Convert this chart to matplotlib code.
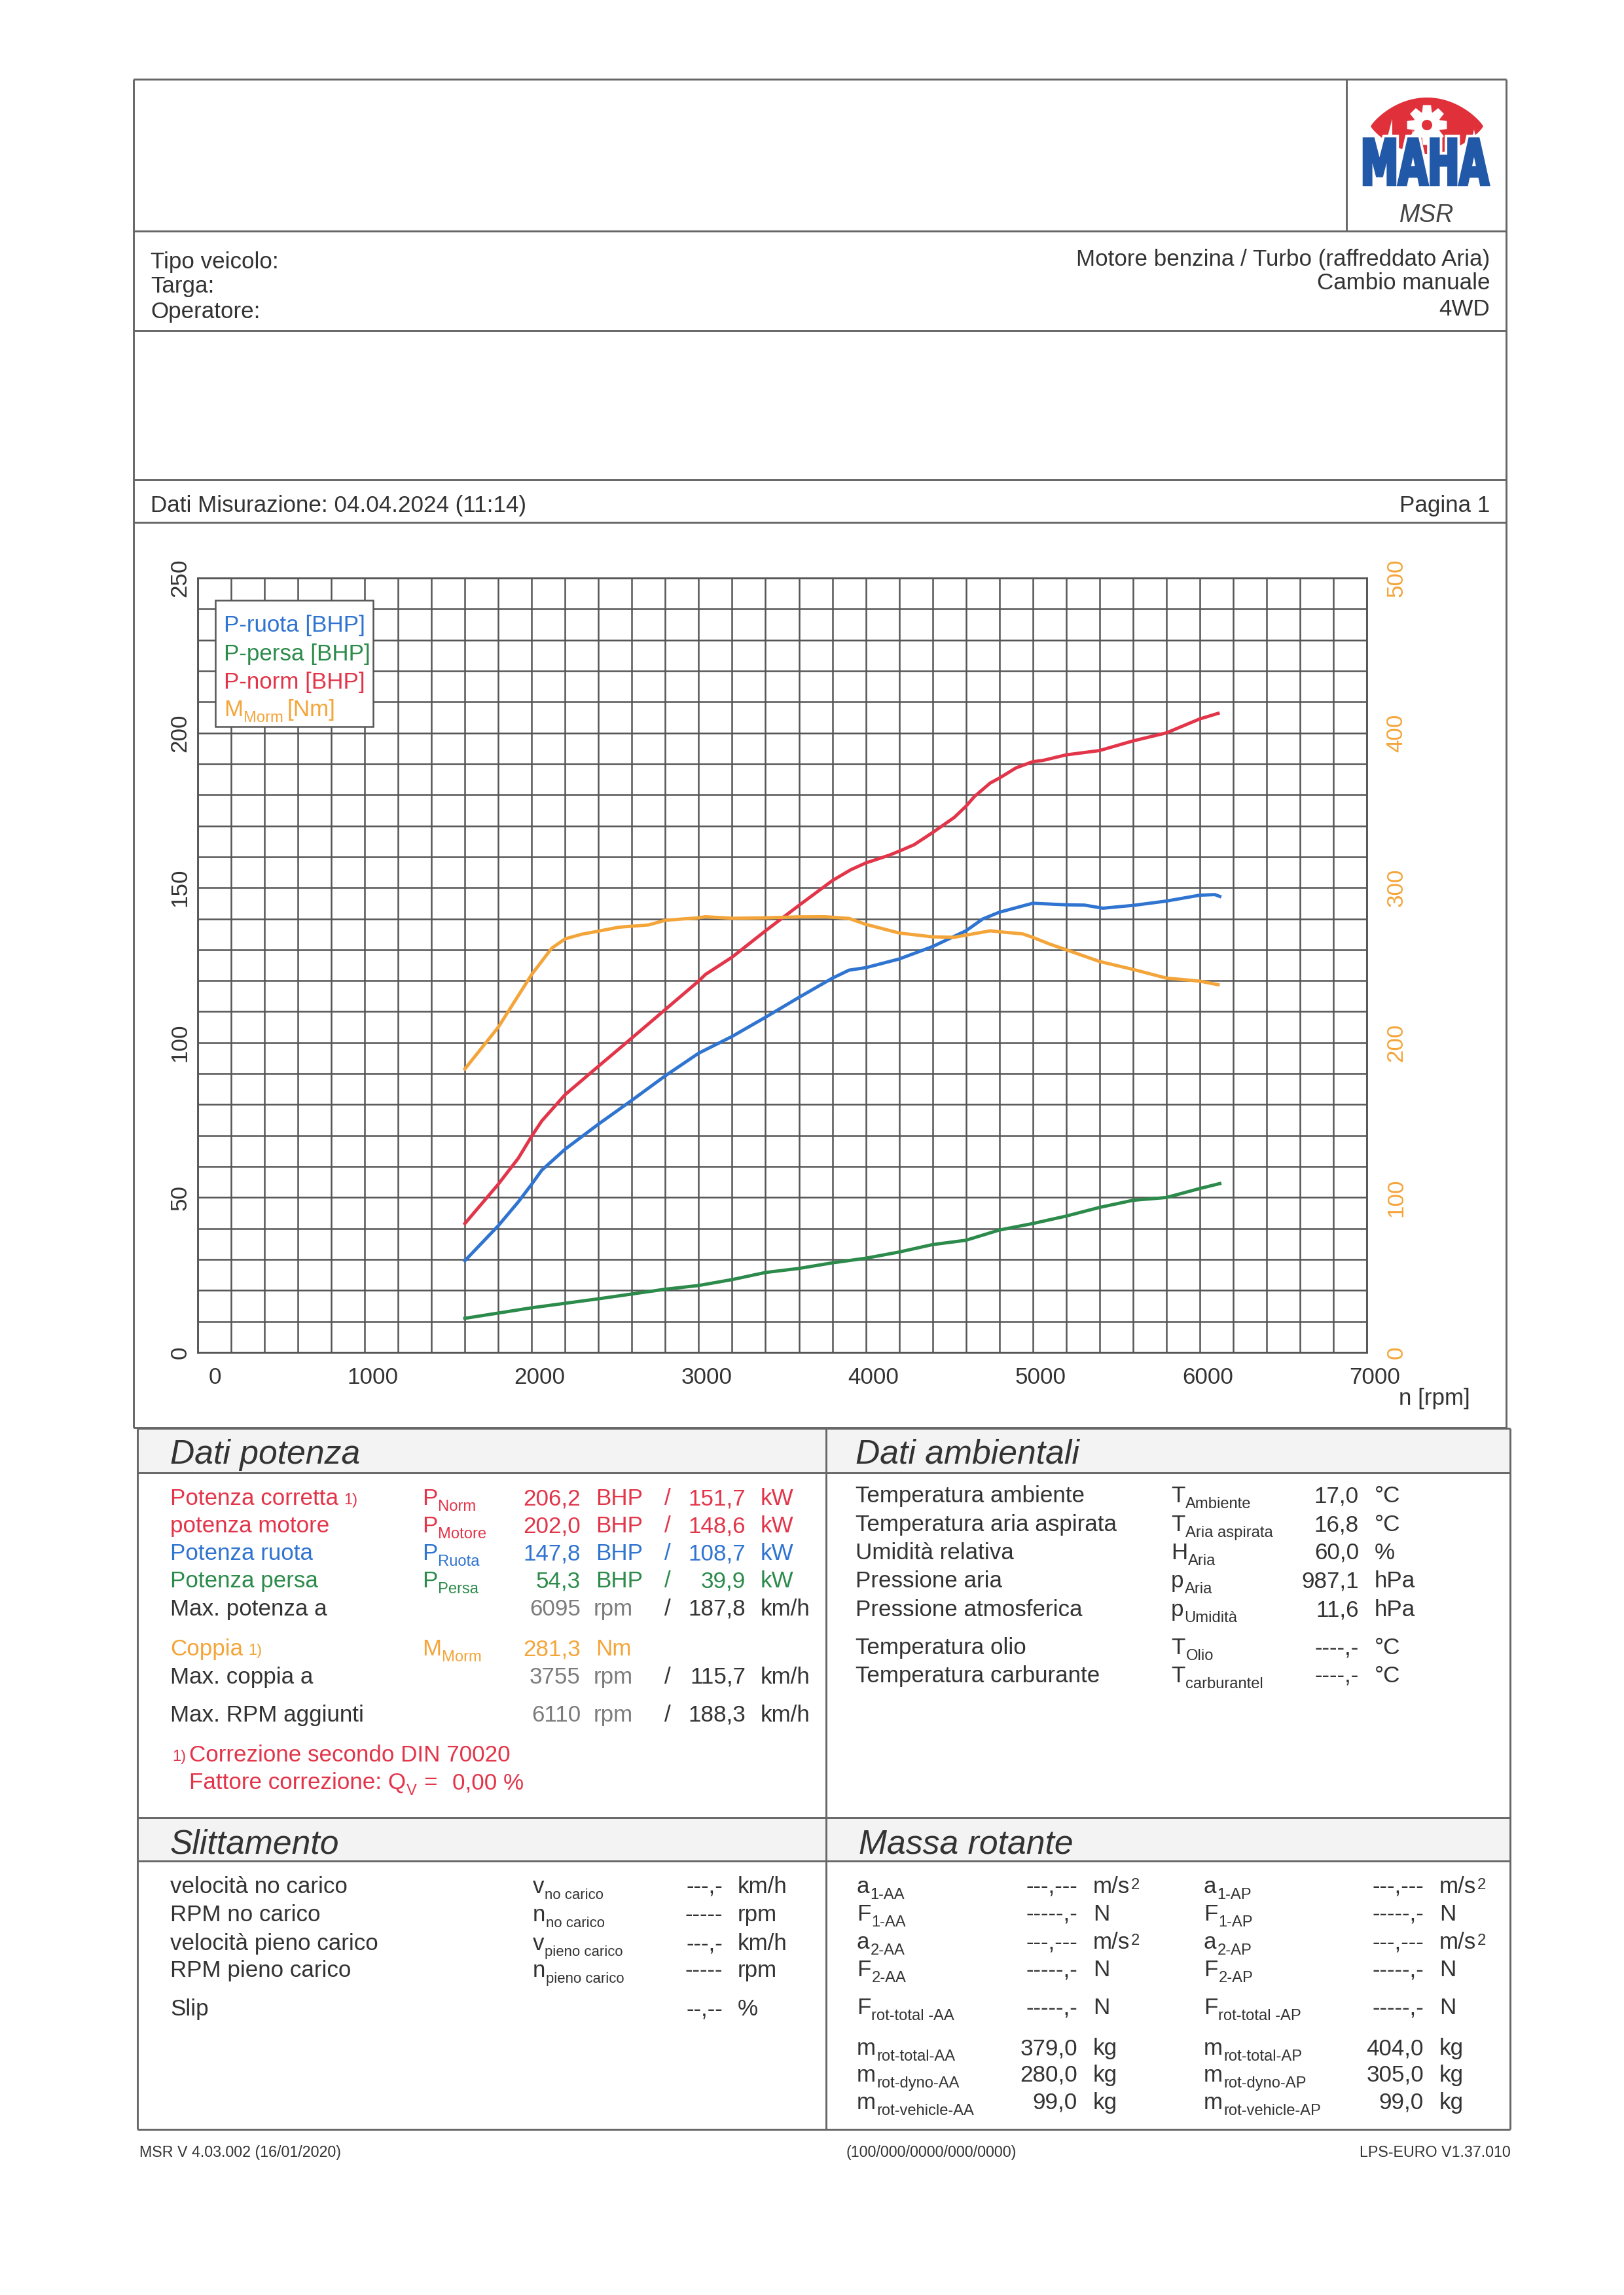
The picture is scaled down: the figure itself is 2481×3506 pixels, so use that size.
import numpy as np
import matplotlib
matplotlib.use('Agg')
import matplotlib.pyplot as plt
from matplotlib.patches import Rectangle, Polygon, Circle, PathPatch
from matplotlib.textpath import TextPath, TextToPath
from matplotlib.font_manager import FontProperties
from matplotlib.transforms import Affine2D, ScaledTranslation

plt.rcParams['font.family'] = ['Liberation Sans', 'DejaVu Sans']

# ------------------------------------------------------------------ data
rpm_norm = [1600, 1800, 1920, 2000, 2060, 2200, 2400, 2600, 2800, 3000, 3040, 3200, 3400,
            3600, 3800, 3910, 4000, 4140, 4200, 4290, 4400, 4530, 4600, 4650, 4745, 4800,
            4900, 5000, 5060, 5200, 5400, 5600, 5800, 6000, 6110]
p_norm = [41.6, 54.3, 62.7, 69.8, 74.7, 83.2, 92.4, 101.5, 110.7, 119.9, 122.0, 127.6, 136.1,
          144.3, 152.3, 155.8, 158.0, 160.5, 161.8, 163.9, 167.8, 172.7, 176.3, 179.4, 183.8, 185.4,
          188.7, 190.7, 191.1, 192.9, 194.3, 197.4, 200.0, 204.5, 206.3]

rpm_ruota = [1600, 1800, 1920, 2000, 2060, 2200, 2400, 2600, 2800, 3000, 3200, 3400, 3600,
             3800, 3900, 4000, 4200, 4400, 4600, 4700, 4800, 5000, 5200, 5310, 5420, 5600,
             5800, 6000, 6090, 6120]
p_ruota = [29.6, 40.9, 48.6, 54.3, 58.8, 65.6, 73.7, 81.4, 89.3, 96.6, 102.0, 108.2, 114.6,
           120.8, 123.4, 124.2, 127.0, 131.0, 136.1, 139.9, 142.1, 145.0, 144.5, 144.4, 143.4, 144.3,
           145.7, 147.6, 147.8, 147.2]

rpm_persa = [1600, 2000, 2400, 2800, 3000, 3200, 3400, 3600, 3800, 4000, 4200, 4400, 4600,
             4800, 5000, 5200, 5400, 5600, 5800, 6000, 6120]
p_persa = [11.0, 14.4, 17.3, 20.4, 21.6, 23.5, 25.8, 27.1, 28.9, 30.4, 32.4, 34.8, 36.2,
           39.5, 41.6, 44.0, 46.8, 49.1, 50.0, 52.9, 54.5]

rpm_m = [1600, 1800, 2000, 2120, 2200, 2300, 2400, 2520, 2700, 2800, 3000, 3040, 3200, 3400,
         3600, 3755, 3900, 4000, 4200, 4400, 4530, 4600, 4745, 4800, 4940, 5000, 5100, 5200,
         5400, 5600, 5800, 6000, 6110]
m_norm = [183, 210, 244, 261, 267, 270, 272, 274.5, 276, 279, 280.6, 281.3, 280.3, 280.6,
          281.2, 281.3, 280.2, 276.4, 270.8, 268.3, 268, 269.4, 272.2, 271.6, 270.2, 268, 263.7, 260,
          252.4, 247.3, 241.7, 239.7, 237.4]

x_ticks = [0, 1000, 2000, 3000, 4000, 5000, 6000, 7000]
y_ticks = [0, 50, 100, 150, 200, 250]
y2_ticks = [0, 100, 200, 300, 400, 500]

legend_labels = ['P-ruota [BHP]', 'P-persa [BHP]', 'P-norm [BHP]']

vehicle_left = ['Tipo veicolo:', 'Targa:', 'Operatore:']
vehicle_right = ['Motore benzina / Turbo (raffreddato Aria)', 'Cambio manuale', '4WD']

pot_labels = ['Potenza corretta', 'potenza motore', 'Potenza ruota', 'Potenza persa']
pot_subs = ['Norm', 'Motore', 'Ruota', 'Persa']
pot_bhp = ['206,2', '202,0', '147,8', '54,3']
pot_kw = ['151,7', '148,6', '108,7', '39,9']

amb_labels = ['Temperatura ambiente', 'Temperatura aria aspirata', 'Umidità relativa',
              'Pressione aria', 'Pressione atmosferica', 'Temperatura olio', 'Temperatura carburante']
amb_main = ['T', 'T', 'H', 'p', 'p', 'T', 'T']
amb_subs = ['Ambiente', 'Aria aspirata', 'Aria', 'Aria', 'Umidità', 'Olio', 'carburantel']
amb_vals = ['17,0', '16,8', '60,0', '987,1', '11,6', '----,-', '----,-']
amb_units = ['°C', '°C', '%', 'hPa', 'hPa', '°C', '°C']

sl_labels = ['velocità no carico', 'RPM no carico', 'velocità pieno carico', 'RPM pieno carico', 'Slip']
sl_main = ['v', 'n', 'v', 'n', '']
sl_subs = ['no carico', 'no carico', 'pieno carico', 'pieno carico', '']
sl_vals = ['---,-', '-----', '---,-', '-----', '--,--']
sl_units = ['km/h', 'rpm', 'km/h', 'rpm', '%']

mr_main = ['a', 'F', 'a', 'F', 'F', 'm', 'm', 'm']
mr_subs = ['1-AA', '1-AA', '2-AA', '2-AA', 'rot-total -AA', 'rot-total-AA', 'rot-dyno-AA', 'rot-vehicle-AA']
mr_vals_aa = ['---,---', '-----,-', '---,---', '-----,-', '-----,-', '379,0', '280,0', '99,0']
mr_vals_ap = ['---,---', '-----,-', '---,---', '-----,-', '-----,-', '404,0', '305,0', '99,0']
mr_units = ['m/s', 'N', 'm/s', 'N', 'N', 'kg', 'kg', 'kg']

# ------------------------------------------------------------------ style
W, H = 2481, 3506
DPI = 300
PX = DPI / 72.0
FS = 8.4
SUBFS = 5.7
RED = '#e2354a'
BLUE = '#2f74d0'
GREEN = '#2c8a4b'
ORANGE = '#f4a53a'
GRAYT = '#7c7c7c'
DARK = '#333333'
GRID = '#555555'
FRAME = '#666666'
BAND = '#f3f3f3'
LOGO_RED = '#e0303a'
LOGO_BLUE = '#2158a8'

fig = plt.figure(figsize=(W / DPI, H / DPI), dpi=DPI)
fig.patch.set_facecolor('white')

# ------------------------------------------------------------------ chart
cx0, cx1, cy0, cy1 = 302, 2088, 883, 2066
ax = fig.add_axes([cx0 / W, 1 - cy1 / H, (cx1 - cx0) / W, (cy1 - cy0) / H])
ax.set_xlim(0, 7000)
ax.set_ylim(0, 250)
ax.set_xticks(x_ticks)
ax.set_xticks(np.arange(0, 7001, 200), minor=True)
ax.set_yticks(y_ticks)
ax.set_yticks(np.arange(0, 251, 10), minor=True)
ax.grid(which='both', color=GRID, lw=0.6)
ax.set_axisbelow(True)
ax.tick_params(which='both', length=0)
ax.tick_params(axis='x', pad=5.3, labelsize=FS, labelcolor=DARK)
ax.tick_params(axis='y', pad=2.5, labelsize=FS, labelcolor=DARK)
ax.set_xticklabels([str(v) for v in x_ticks])
ax.set_yticklabels([str(v) for v in y_ticks], rotation=90, va='center', ha='right')
for lbl in ax.get_xticklabels():
    dx = 26 if lbl.get_text() == '0' else 12
    lbl.set_transform(lbl.get_transform() + ScaledTranslation(dx / DPI, 0, fig.dpi_scale_trans))
for s in ax.spines.values():
    s.set_color(GRID)
    s.set_linewidth(0.6)

ax.plot(rpm_persa, p_persa, color=GREEN, lw=1.2, zorder=3)
ax.plot(rpm_ruota, p_ruota, color=BLUE, lw=1.2, zorder=3)
ax.plot(rpm_norm, p_norm, color=RED, lw=1.2, zorder=3)

ax2 = ax.twinx()
ax2.set_ylim(0, 500)
ax2.set_yticks(y2_ticks)
ax2.tick_params(which='both', length=0, pad=6.8, labelsize=FS, labelcolor=ORANGE)
ax2.set_yticklabels([str(v) for v in y2_ticks], rotation=90, va='center', ha='left')
for s in ax2.spines.values():
    s.set_color(GRID)
    s.set_linewidth(0.6)
ax2.plot(rpm_m, m_norm, color=ORANGE, lw=1.2, zorder=3)

# ------------------------------------------------------------------ page overlay
pg = fig.add_axes([0, 0, 1, 1], zorder=10)
pg.set_xlim(0, W)
pg.set_ylim(H, 0)
pg.axis('off')

_t2p = TextToPath()


def tw(s, size, style='normal'):
    fp = FontProperties(family='Liberation Sans', size=size, style=style)
    w, h, d = _t2p.get_text_width_height_descent(s, fp, ismath=False)
    return w * PX


def txt(x, y, s, size=FS, color=DARK, ha='left', style='normal', weight='normal', z=6):
    pg.text(x, y, s, fontsize=size, color=color, ha=ha, va='baseline',
            fontstyle=style, fontweight=weight, zorder=z)


def sym(x, y, main, sub, color=DARK, size=FS, subsize=SUBFS, drop=9):
    if not main:
        return
    txt(x, y, main, size, color)
    if sub:
        txt(x + tw(main, size) + 1, y + drop, sub, subsize, color)


def hl(y, x0, x1, lw=0.7):
    pg.plot([x0, x1], [y, y], color=FRAME, lw=lw, solid_capstyle='butt')


def vl(x, y0, y1, lw=0.7):
    pg.plot([x, x], [y0, y1], color=FRAME, lw=lw, solid_capstyle='butt')


# upper frame
UX0, UX1 = 204, 2301
for yy in [121, 353, 505, 733, 798, 2181]:
    hl(yy, UX0, UX1)
vl(UX0, 121, 2181)
vl(UX1, 121, 2181)
vl(2057, 121, 353)

# lower frame
LX0, LX1 = 210, 2307
pg.add_patch(Rectangle((LX0, 2182), LX1 - LX0, 68, facecolor=BAND, edgecolor='none', zorder=0))
pg.add_patch(Rectangle((LX0, 2777), LX1 - LX0, 66, facecolor=BAND, edgecolor='none', zorder=0))
for yy in [2182, 2250, 2777, 2843, 3253]:
    hl(yy, LX0, LX1)
vl(LX0, 2182, 3253)
vl(LX1, 2182, 3253)
vl(1262, 2182, 3253)

# logo
t = np.linspace(-1, 1, 80)
top = np.column_stack([2180 + 86 * t, 193 - 44 * (1 - t ** 2) ** 0.85])
bot = np.column_stack([2180 - 86 * t, 193 + 42 * (1 - t ** 2) ** 0.85])
pg.add_patch(Polygon(np.vstack([top, bot]), closed=True, facecolor=LOGO_RED, edgecolor='none', zorder=2))
gear = []
for i in range(8):
    a0 = 2 * np.pi * i / 8
    for r, da in [(21, -0.36), (31, -0.2), (31, 0.2), (21, 0.36)]:
        gear.append((2180 + r * np.cos(a0 + da), 191 + r * np.sin(a0 + da)))
pg.add_patch(Polygon(gear, closed=True, facecolor='white', edgecolor='none', zorder=3))
pg.add_patch(Circle((2180, 191), 8, facecolor=LOGO_RED, edgecolor='none', zorder=4))
tp = TextPath((0, 0), 'MAHA', size=100, prop=FontProperties(family='DejaVu Sans', weight='bold'))
bb = tp.get_extents()
tr = Affine2D().translate(-bb.x0, -bb.y0).scale(190 / bb.width, -70 / bb.height).translate(2084, 282)
mpath = tr.transform_path(tp)
pg.add_patch(PathPatch(mpath, facecolor='white', edgecolor='white', lw=3.0, zorder=5))
pg.add_patch(PathPatch(mpath, facecolor=LOGO_BLUE, edgecolor=LOGO_BLUE, lw=1.1, zorder=6))
txt(2180, 339, 'MSR', size=9, color='#444444', ha='center', style='italic')

# vehicle info
for s, y in zip(vehicle_left, [410, 447, 486]):
    txt(230, y, s)
for s, y in zip(vehicle_right, [406, 442, 482]):
    txt(2276, y, s, ha='right')
txt(230, 782, 'Dati Misurazione: 04.04.2024 (11:14)')
txt(2276, 782, 'Pagina 1', ha='right')

# legend box in chart
pg.add_patch(Rectangle((329, 917), 241, 193, facecolor='white', edgecolor=GRID, lw=0.6, zorder=5))
for s, y, c in zip(legend_labels, [965, 1009, 1052], [BLUE, GREEN, RED]):
    txt(342, y, s, color=c)
txt(342, 1094, 'M', color=ORANGE)
xm = 342 + tw('M', FS) + 1
txt(xm, 1103, 'Morm', size=SUBFS, color=ORANGE)
txt(xm + tw('Morm', SUBFS) + 6, 1094, '[Nm]', color=ORANGE)

txt(2246, 2146, 'n [rpm]', ha='right')

# section titles
TFS = 12.4
txt(260, 2236, 'Dati potenza', size=TFS, style='italic')
txt(1307, 2236, 'Dati ambientali', size=TFS, style='italic')
txt(260, 2831, 'Slittamento', size=TFS, style='italic')
txt(1312, 2831, 'Massa rotante', size=TFS, style='italic')

# Dati potenza
pot_colors = [RED, RED, BLUE, GREEN]
pot_y = [2299, 2341, 2383, 2425]
for lab, sub, v1, v2, c, y in zip(pot_labels, pot_subs, pot_bhp, pot_kw, pot_colors, pot_y):
    txt(260, y, lab, color=c)
    sym(645, y, 'P', sub, color=c)
    txt(887, y, v1, color=c, ha='right')
    txt(910, y, 'BHP', color=c)
    txt(1020, y, '/', color=c, ha='center')
    txt(1139, y, v2, color=c, ha='right')
    txt(1162, y, 'kW', color=c)
txt(260 + tw('Potenza corretta', FS) + 8, 2298, '1)', size=SUBFS, color=RED)


def rpm_row(y, label, rpm, kmh):
    txt(260, y, label)
    txt(887, y, rpm, color=GRAYT, ha='right')
    txt(907, y, 'rpm', color=GRAYT)
    txt(1020, y, '/', ha='center')
    txt(1139, y, kmh, ha='right')
    txt(1162, y, 'km/h')


rpm_row(2468, 'Max. potenza a', '6095', '187,8')
txt(260, 2529, 'Coppia', color=ORANGE)
txt(260 + tw('Coppia', FS) + 8, 2528, '1)', size=SUBFS, color=ORANGE)
sym(645, 2529, 'M', 'Morm', color=ORANGE)
txt(887, 2529, '281,3', color=ORANGE, ha='right')
txt(910, 2529, 'Nm', color=ORANGE)
rpm_row(2572, 'Max. coppia a', '3755', '115,7')
rpm_row(2630, 'Max. RPM aggiunti', '6110', '188,3')
txt(263, 2690, '1)', size=SUBFS, color=RED)
txt(289, 2691, 'Correzione secondo DIN 70020', color=RED)
txt(289, 2733, 'Fattore correzione: Q', color=RED)
txt(289 + tw('Fattore correzione: Q', FS) + 1, 2742, 'V', size=SUBFS, color=RED)
txt(647, 2733, '=', color=RED)
txt(691, 2733, '0,00 %', color=RED)

# Dati ambientali
amb_y = [2295, 2339, 2382, 2425, 2469, 2527, 2570]
for lab, m, sub, v, u, y in zip(amb_labels, amb_main, amb_subs, amb_vals, amb_units, amb_y):
    txt(1307, y, lab)
    sym(1789, y, m, sub)
    txt(2076, y, v, ha='right')
    txt(2100, y, u)

# Slittamento
sl_y = [2892, 2935, 2979, 3020, 3079]
for lab, m, sub, v, u, y in zip(sl_labels, sl_main, sl_subs, sl_vals, sl_units, sl_y):
    txt(260, y, lab)
    sym(814, y, m, sub, subsize=5.3)
    txt(1104, y, v, ha='right')
    txt(1127, y, u)

# Massa rotante
mr_y = [2892, 2934, 2977, 3019, 3077, 3139, 3180, 3222]
for m, sub, va, vp, u, y in zip(mr_main, mr_subs, mr_vals_aa, mr_vals_ap, mr_units, mr_y):
    sym(1309, y, m, sub)
    txt(1646, y, va, ha='right')
    txt(1670, y, u)
    sym(1839, y, m, sub.replace('AA', 'AP'))
    txt(2175, y, vp, ha='right')
    txt(2199, y, u)
    if u == 'm/s':
        txt(1670 + tw('m/s', FS) + 1, y - 6, '2', size=SUBFS)
        txt(2199 + tw('m/s', FS) + 1, y - 6, '2', size=SUBFS)

# footer
txt(213, 3295, 'MSR V 4.03.002 (16/01/2020)', size=5.6)
txt(1423, 3295, '(100/000/0000/000/0000)', size=5.6, ha='center')
txt(2308, 3295, 'LPS-EURO V1.37.010', size=5.6, ha='right')

fig.savefig('out.png', dpi=DPI, facecolor='white')
